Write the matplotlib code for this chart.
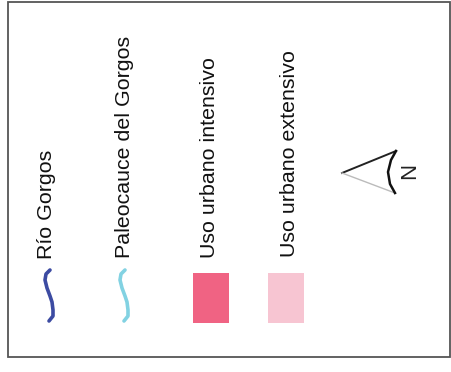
import matplotlib

matplotlib.use("Agg")
import matplotlib.pyplot as plt
from matplotlib.patches import Rectangle

plt.rcParams["font.family"] = ["Liberation Sans", "DejaVu Sans"]

# legend entries (rotated labels) in pixel coords of the 451x372 image
labels = ["Río Gorgos", "Paleocauce del Gorgos", "Uso urbano intensivo", "Uso urbano extensivo"]
label_x = [52, 130, 215, 295]
label_y = [259, 258, 258, 257]

# river symbols: squiggle shape (x offset, y) and colours
squiggle_dx = [5, 1, 0, 2, 5, 7, 8, 8, 4]
squiggle_y = [270, 274, 280, 288, 296, 302, 310, 316, 321]
line_x = [45, 120]
line_colors = ["#3c4ba2", "#82d2e2"]

# urban use patches
patch_x = [193, 268]
patch_colors = ["#f06383", "#f7c5d2"]
patch_w, patch_top, patch_h = 36, 273, 50

fig = plt.figure(figsize=(4.51, 3.72), dpi=100)
ax = fig.add_axes([0, 0, 1, 1])
ax.set_xlim(0, 451)
ax.set_ylim(372, 0)
ax.axis("off")

# frame
ax.add_patch(Rectangle((8, 2), 442, 355, fill=False, ec="#555555", lw=1.3))

for lab, x, y in zip(labels, label_x, label_y):
    ax.text(x, y, lab, rotation=90, rotation_mode="anchor", ha="left",
            va="baseline", fontsize=15.4, color="#111111")

for x0, c in zip(line_x, line_colors):
    ax.plot([x0 + d for d in squiggle_dx], squiggle_y, color=c, lw=2.6,
            solid_capstyle="round", solid_joinstyle="round")

for x0, c in zip(patch_x, patch_colors):
    ax.add_patch(Rectangle((x0, patch_top), patch_w, patch_h, color=c, lw=0))

# north arrow
ax.plot([342, 396], [173, 151], color="#222222", lw=1.4)
ax.plot([342, 395], [173, 193], color="#bbbbbb", lw=1.0)
ax.plot([396, 391, 388, 390, 395], [151, 160, 172, 184, 193], color="#111111", lw=1.8)
ax.text(410, 171, "N", rotation=90, ha="center", va="center", fontsize=16,
        color="#222222")

fig.savefig("out.png", dpi=100)
